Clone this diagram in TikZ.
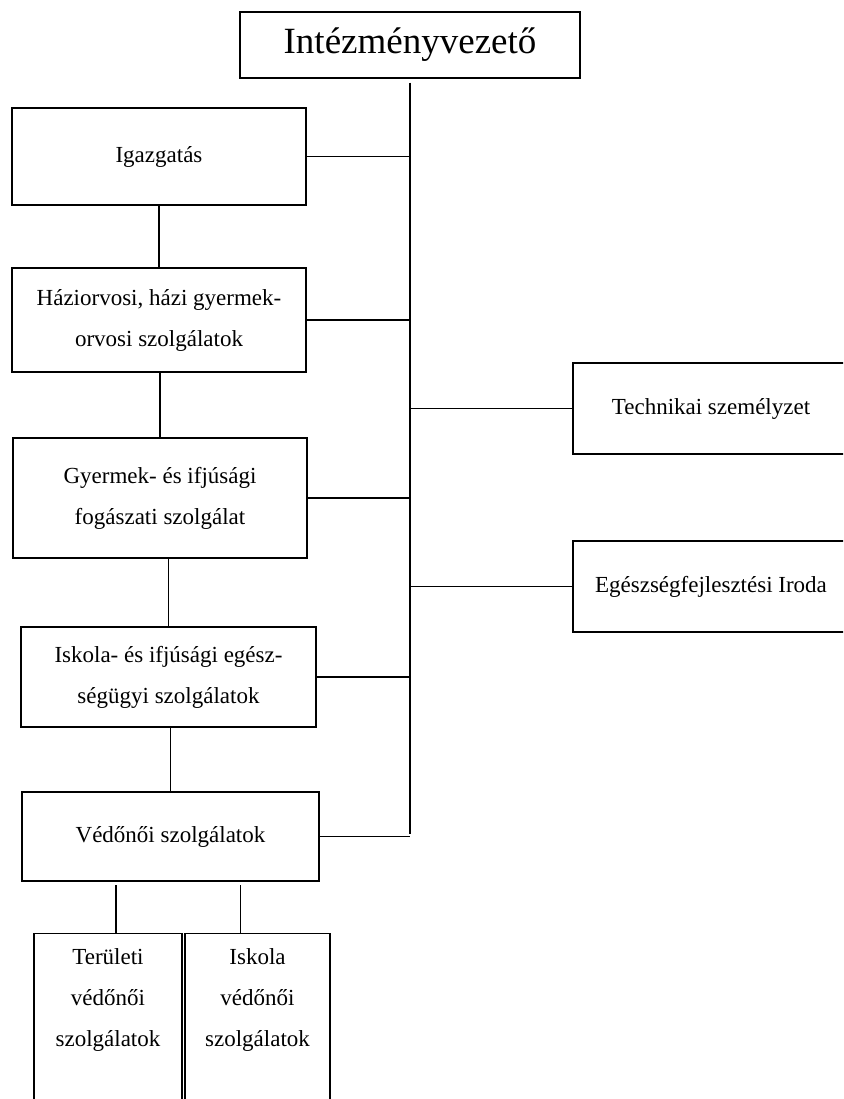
\documentclass[tikz,border=0pt]{standalone}
\usepackage{fontspec}
\setmainfont{Liberation Serif}
\begin{document}
\begin{tikzpicture}[x=1pt, y=-1pt,
    box/.style={draw, line width=1.1pt, inner sep=0pt, align=center,
        font=\fontsize{23}{41}\selectfont},
    link/.style={line width=1.2pt}]
\clip (0,0) rectangle (843,1099);
\node[box, minimum width=340, minimum height=66, font=\fontsize{37}{40}\selectfont] (head) at (410,45) {Intézményvezető};
\node[box, minimum width=294, minimum height=97] (igaz) at (159,156.5) {Igazgatás};
\node[box, minimum width=294, minimum height=104] (hazi) at (159,320) {Háziorvosi, házi gyermek-\\orvosi szolgálatok};
\node[box, minimum width=294, minimum height=120] (fog) at (160,498) {Gyermek- és ifjúsági\\fogászati szolgálat};
\node[box, minimum width=295, minimum height=100] (iskeg) at (168.5,677) {Iskola- és ifjúsági egész-\\ségügyi szolgálatok};
\node[box, minimum width=297, minimum height=89] (ved) at (170.5,836.5) {Védőnői szolgálatok};
\node[box, minimum width=276, minimum height=91] (tech) at (711,408.5) {Technikai személyzet};
\node[box, minimum width=276, minimum height=91] (ofis) at (711,586.5) {Egészségfejlesztési Iroda};
\node[box, anchor=north, minimum width=148, text height=113, text depth=90] (terv) at (108,933) {Területi\\védőnői\\szolgálatok};
\node[box, anchor=north, minimum width=145, text height=113, text depth=90] (iskv) at (257.5,933) {Iskola\\védőnői\\szolgálatok};
\coordinate (trunk) at (410,834);
\draw[link] ([yshift=-4]head.south) -- (trunk);
\draw[link] (igaz.east) -- (igaz.east -| trunk);
\draw[link] (hazi.east) -- (hazi.east -| trunk);
\draw[link] (fog.east) -- (fog.east -| trunk);
\draw[link] (iskeg.east) -- (iskeg.east -| trunk);
\draw[link] (ved.east) -- (ved.east -| trunk);
\draw[link] (tech.west) -- (tech.west -| trunk);
\draw[link] (ofis.west) -- (ofis.west -| trunk);
\draw[link] (hazi.north) -- (hazi.north |- igaz.south);
\draw[link] (fog.north) -- (fog.north |- hazi.south);
\draw[link] (iskeg.north) -- (iskeg.north |- fog.south);
\draw[link] (ved.north) -- (ved.north |- iskeg.south);
\draw[link] ([xshift=8]terv.north) -- ([xshift=8, yshift=-3]terv.north |- ved.south);
\draw[link] ([xshift=-17]iskv.north) -- ([xshift=-17, yshift=-3]iskv.north |- ved.south);
\end{tikzpicture}
\end{document}
